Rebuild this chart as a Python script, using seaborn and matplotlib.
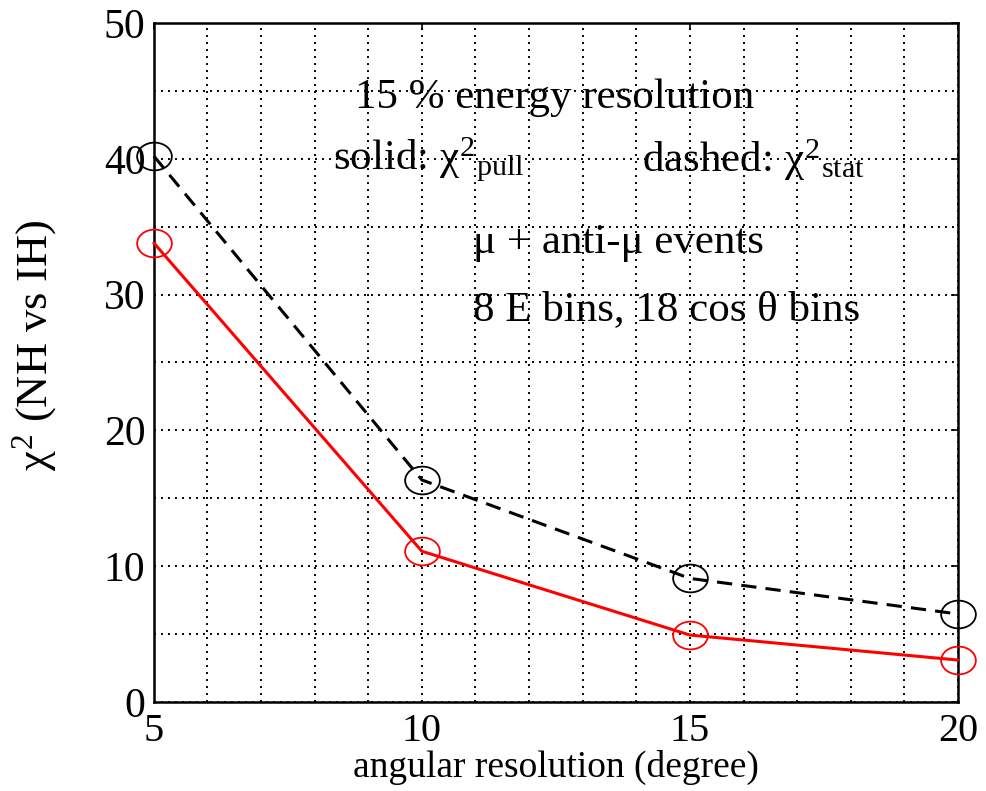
import numpy as np
import pandas as pd
import seaborn as sns
import matplotlib
matplotlib.use("Agg")
import matplotlib.pyplot as plt
from matplotlib.path import Path
from matplotlib.transforms import Affine2D

# Angular resolution (degrees) and chi^2 separation NH vs IH
angular_res = [5, 10, 15, 20]
chi2_pull = [33.8, 11.1, 4.93, 3.09]
chi2_stat = [40.2, 16.35, 9.1, 6.48]

x_ticks = [5, 10, 15, 20]
y_ticks = [0, 10, 20, 30, 40, 50]

sns.set_style("white")
plt.rcParams["font.family"] = ["Liberation Serif", "DejaVu Serif"]
plt.rcParams["mathtext.fontset"] = "custom"
plt.rcParams["mathtext.rm"] = "Liberation Serif"
plt.rcParams["mathtext.it"] = "Liberation Serif"
plt.rcParams["mathtext.bf"] = "Liberation Serif:bold"
for key in ["text.color", "axes.labelcolor", "xtick.color", "ytick.color"]:
    plt.rcParams[key] = "black"

df = pd.DataFrame({"res": angular_res, "pull": chi2_pull, "stat": chi2_stat})

# slightly wide open-ellipse marker
ellipse = Path.unit_circle().transformed(Affine2D().scale(1.25, 1.0))

fig = plt.figure(figsize=(9.86, 7.91), dpi=100)
ax = fig.add_axes([0.156, 0.1125, 0.8156, 0.8585])

sns.lineplot(data=df, x="res", y="stat", ax=ax, color="black", lw=2.2,
             linestyle=(0, (5, 3)), marker=ellipse, markersize=25,
             markerfacecolor="none", markeredgecolor="black",
             markeredgewidth=1.3, clip_on=False, zorder=5)
sns.lineplot(data=df, x="res", y="pull", ax=ax, color="#ff0000", lw=2.2,
             marker=ellipse, markersize=25, markerfacecolor="none",
             markeredgecolor="#ff0000", markeredgewidth=1.3,
             clip_on=False, zorder=5)

ax.set_xlim(5, 20)
ax.set_ylim(0, 50)

# grid: every degree in x, every 5 units in y
ax.set_xticks(x_ticks)
ax.set_yticks(y_ticks)
ax.set_xticks(np.arange(5, 21, 1), minor=True)
ax.set_yticks(np.arange(0, 51, 5), minor=True)
ax.grid(True, which="both", color="black", linestyle=(0, (1, 2.6)),
        linewidth=1.4)
ax.set_axisbelow(True)

ax.tick_params(axis="both", which="both", direction="in", length=5,
               width=1.2, top=True, right=True)
ax.tick_params(axis="x", which="major", pad=8, labelsize=29)
ax.tick_params(axis="y", which="major", pad=6, labelsize=30)
ax.tick_params(axis="both", which="minor", length=0)
for s in ax.spines.values():
    s.set_linewidth(1.8)
    s.set_color("black")

ax.set_xlabel("angular resolution (degree)", fontsize=27, labelpad=0)
ax.set_ylabel(r"$\chi^{2}$ (NH vs IH)", fontsize=32)
ax.yaxis.set_label_coords(-0.118, 0.525)

txt = dict(fontsize=31, color="black", va="center", ha="left")
ax.text(8.75, 44.5, "15 % energy resolution", **txt)
ax.text(8.35, 39.9, r"solid: $\chi^{2}{}_{\mathrm{pull}}$", **txt)
ax.text(14.1, 39.9, r"dashed: $\chi^{2}{}_{\mathrm{stat}}$", **txt)
ax.text(10.95, 33.8, "\u03bc + anti-\u03bc events", **txt)
ax.text(10.95, 28.9, "8 E bins, 18 cos \u03b8 bins", **txt)

fig.savefig("out.png", dpi=100)
